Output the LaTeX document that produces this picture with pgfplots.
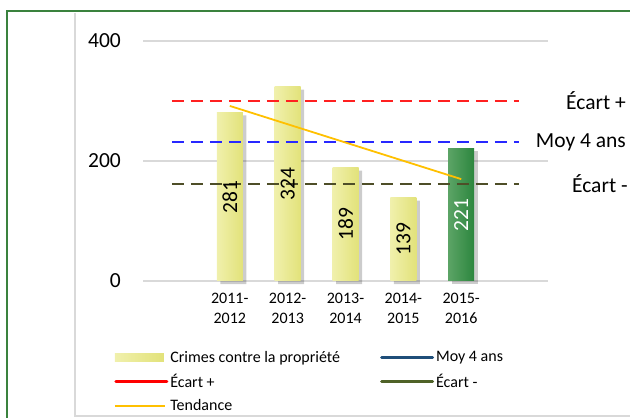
\documentclass[border=0pt]{standalone}
\usepackage{fontspec}
\setmainfont{Carlito}
\usepackage{pgfplots}
\pgfplotsset{compat=1.18}
\usepackage{pgfplotstable}

\definecolor{barY}{RGB}{226,226,122}
\definecolor{barYL}{RGB}{240,240,172}
\definecolor{barG}{RGB}{44,134,62}
\definecolor{barGL}{RGB}{92,164,102}
\definecolor{frameG}{RGB}{58,130,62}
\definecolor{gridG}{RGB}{217,217,217}
\definecolor{ecPlus}{RGB}{255,32,32}
\definecolor{moyB}{RGB}{40,40,255}
\definecolor{ecMoins}{RGB}{78,78,40}
\definecolor{tend}{RGB}{255,192,0}
\definecolor{legMoy}{RGB}{31,78,121}
\definecolor{legMoins}{RGB}{79,98,40}

\newcommand\fBig{\fontsize{21.5bp}{25bp}\selectfont}
\newcommand\fTick{\fontsize{16bp}{20bp}\selectfont}
\newcommand\fLeg{\fontsize{16bp}{19bp}\selectfont}

% crimes contre la propriete, par annee
\pgfplotstableread{
x v
0 281
1 324
2 189
3 139
}\crimes
\pgfplotstableread{
x v
4 221
}\crimesDer

\begin{document}
\begin{tikzpicture}
\useasboundingbox (0bp,0bp) rectangle (630bp,418bp);
% cadres
\draw[frameG, line width=2.5bp] (7bp,0bp) -- (7bp,407bp) -- (630bp,407bp);
\draw[gridG, line width=1.5bp] (75bp,405bp) -- (75bp,2bp) -- (630bp,2bp);

\begin{axis}[
    at={(143bp,137bp)}, anchor=south west,
    scale only axis,
    width=405bp, height=240bp,
    xmin=-1.5, xmax=5.5,
    ymin=0, ymax=400,
    ytick={0,200,400},
    xtick={0,1,2,3,4},
    xticklabels={{2011-\\2012},{2012-\\2013},{2013-\\2014},{2014-\\2015},{2015-\\2016}},
    xticklabel style={align=center, font=\fTick, inner sep=0pt, anchor=north, yshift=-12bp},
    yticklabel style={font=\fBig, inner sep=0pt, anchor=east, xshift=-22bp},
    /pgf/number format/assume math mode=true,
    axis line style={draw=none},
    tick style={draw=none},
    ymajorgrids,
    grid style={gridG, line width=1.3bp},
    clip=false,
    legend columns=2,
    legend cell align=left,
    legend style={draw=none, fill=none, font=\fLeg,
        at={(axis description cs:-0.072,-0.283)}, anchor=north west,
        inner sep=0pt, row sep=6.5bp,
        nodes={inner sep=2bp},
        /tikz/every even column/.append style={column sep=38bp}},
]
% ombres des barres
\addplot[ybar, bar width=26bp, bar shift=3.5bp, yshift=-3bp, draw=none, fill=black, fill opacity=0.2, forget plot]
    table[x=x, y=v] {\crimes};
\addplot[ybar, bar width=26bp, bar shift=3.5bp, yshift=-3bp, draw=none, fill=black, fill opacity=0.2, forget plot]
    table[x=x, y=v] {\crimesDer};
% barres, une par une pour le degrade
\pgfplotsinvokeforeach{0,1,2,3}{
\addplot[ybar, bar width=26bp, bar shift=0pt, draw=none, left color=barYL, middle color=barY, right color=barY,
    restrict x to domain=#1:#1, forget plot]
    table[x=x, y=v] {\crimes};
}
\addplot[ybar, bar width=26bp, bar shift=0pt, draw=none, left color=barGL, middle color=barG, right color=barG, forget plot]
    table[x=x, y=v] {\crimesDer};

% lignes de reference
\addplot[ecPlus, line width=2bp, dash pattern=on 12bp off 7bp, forget plot] coordinates {(-1,300) (5,300)};
\addplot[moyB, line width=2bp, dash pattern=on 12bp off 7bp, forget plot] coordinates {(-1,231) (5,231)};
\addplot[ecMoins, line width=2bp, dash pattern=on 12bp off 7bp, forget plot] coordinates {(-1,162) (5,162)};
% tendance
\addplot[tend, line width=1.8bp, forget plot] coordinates {(0,291.8) (4,169.8)};

% etiquettes des barres
\addplot[draw=none, mark=none, forget plot, nodes near coords, point meta=explicit,
    nodes near coords style={rotate=90, anchor=center, font=\fBig, text=black,
        /pgf/number format/assume math mode=true}]
    table[x=x, y expr=\thisrow{v}/2, meta=v] {\crimes};
\addplot[draw=none, mark=none, forget plot, nodes near coords, point meta=explicit,
    nodes near coords style={rotate=90, anchor=center, font=\fBig, text=white,
        /pgf/number format/assume math mode=true}]
    table[x=x, y expr=\thisrow{v}/2, meta=v] {\crimesDer};

\node[anchor=east, inner sep=0pt, font=\fBig] at (axis cs:6.85,300) {Écart +};
\node[anchor=east, inner sep=0pt, font=\fBig] at (axis cs:6.85,231) {Moy 4 ans};
\node[anchor=east, inner sep=0pt, font=\fBig] at (axis cs:6.88,162) {Écart -};

% legende
\addlegendimage{legend image code/.code={\path[draw=none, left color=barYL, middle color=barY, right color=barY] (0bp,-4bp) rectangle (49bp,4bp);}}
\addlegendentry{Crimes contre la propriété}
\addlegendimage{legend image code/.code={\draw[legMoy, line width=3bp, line cap=round] (1bp,0bp) -- (52bp,0bp);}}
\addlegendentry{Moy 4 ans}
\addlegendimage{legend image code/.code={\draw[red, line width=3bp, line cap=round] (1bp,0bp) -- (52bp,0bp);}}
\addlegendentry{Écart +}
\addlegendimage{legend image code/.code={\draw[legMoins, line width=3bp, line cap=round] (1bp,0bp) -- (52bp,0bp);}}
\addlegendentry{Écart -}
\addlegendimage{legend image code/.code={\draw[tend, line width=1.5bp] (0bp,0bp) -- (50bp,0bp);}}
\addlegendentry{Tendance}
\end{axis}
\end{tikzpicture}
\end{document}
